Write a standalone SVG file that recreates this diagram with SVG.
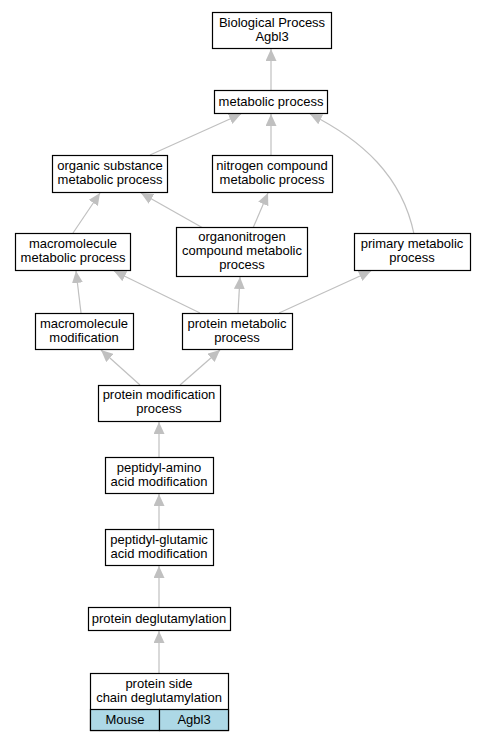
<svg xmlns="http://www.w3.org/2000/svg" width="483" height="741" viewBox="0 0 483 741">
<style>
.n rect{fill:#fff;stroke:#000;stroke-width:1.2}
.n text{font-family:"Liberation Sans",Arial,sans-serif;font-size:13px;text-anchor:middle;fill:#000}
.e path{fill:none;stroke:#c0c0c0;stroke-width:1.2}
.n rect.cell{fill:#add8e6}
</style>
<defs>
<marker id="a" viewBox="0 0 12 11" refX="12" refY="5.5" markerWidth="12" markerHeight="11" markerUnits="userSpaceOnUse" orient="auto">
<path d="M0,0 L12,5.5 L0,11 z" fill="#c0c0c0"/>
</marker>
</defs>
<rect width="483" height="741" fill="#fff"/>
<g class="e">
<path d="M271,90 L271,49" marker-end="url(#a)"/>
<path d="M150,155 L241,114" marker-end="url(#a)"/>
<path d="M271,155 L271,114" marker-end="url(#a)"/>
<path d="M414,234 C402,176 362,140 310,114" marker-end="url(#a)"/>
<path d="M73,233 L100,193" marker-end="url(#a)"/>
<path d="M203,228 L141,193" marker-end="url(#a)"/>
<path d="M253,228 L268,193" marker-end="url(#a)"/>
<path d="M81,313 L76,271" marker-end="url(#a)"/>
<path d="M200,313 L114,271" marker-end="url(#a)"/>
<path d="M238,313 L240,277" marker-end="url(#a)"/>
<path d="M279,313 L371,271" marker-end="url(#a)"/>
<path d="M140,385 L101,350" marker-end="url(#a)"/>
<path d="M180,385 L220,350" marker-end="url(#a)"/>
<path d="M159,457 L159,422" marker-end="url(#a)"/>
<path d="M159,529 L159,494" marker-end="url(#a)"/>
<path d="M159,607 L159,566" marker-end="url(#a)"/>
<path d="M159,673 L159,631" marker-end="url(#a)"/>
</g>
<g id="n1" class="n"><rect x="212.5" y="12.5" width="119" height="36"/><text x="272" y="27">Biological Process</text><text x="272" y="41">Agbl3</text></g>
<g id="n2" class="n"><rect x="214.5" y="90.5" width="113" height="23"/><text x="271" y="106">metabolic process</text></g>
<g id="n3" class="n"><rect x="52.5" y="155.5" width="115" height="37"/><text x="110" y="170">organic substance</text><text x="110" y="184">metabolic process</text></g>
<g id="n4" class="n"><rect x="212.5" y="155.5" width="120" height="37"/><text x="272" y="170">nitrogen compound</text><text x="272" y="184">metabolic process</text></g>
<g id="n5" class="n"><rect x="15.5" y="233.5" width="115" height="37"/><text x="73" y="248">macromolecule</text><text x="73" y="262">metabolic process</text></g>
<g id="n6" class="n"><rect x="176.5" y="227.5" width="131" height="49"/><text x="242" y="241">organonitrogen</text><text x="242" y="255">compound metabolic</text><text x="242" y="269">process</text></g>
<g id="n7" class="n"><rect x="354.5" y="233.5" width="116" height="37"/><text x="412" y="248">primary metabolic</text><text x="412" y="262">process</text></g>
<g id="n8" class="n"><rect x="35.5" y="313.5" width="98" height="36"/><text x="84" y="328">macromolecule</text><text x="84" y="342">modification</text></g>
<g id="n9" class="n"><rect x="182.5" y="313.5" width="110" height="36"/><text x="237" y="328">protein metabolic</text><text x="237" y="342">process</text></g>
<g id="n10" class="n"><rect x="98.5" y="385.5" width="122" height="36"/><text x="159" y="399">protein modification</text><text x="159" y="413">process</text></g>
<g id="n11" class="n"><rect x="105.5" y="457.5" width="108" height="36"/><text x="159" y="472">peptidyl-amino</text><text x="159" y="486">acid modification</text></g>
<g id="n12" class="n"><rect x="105.5" y="529.5" width="108" height="36"/><text x="159" y="544">peptidyl-glutamic</text><text x="159" y="558">acid modification</text></g>
<g id="n13" class="n"><rect x="88.5" y="607.5" width="142" height="23"/><text x="159" y="623">protein deglutamylation</text></g>
<g id="n14" class="n"><rect x="90.5" y="673.5" width="138" height="57"/><text x="159" y="688">protein side</text><text x="159" y="702">chain deglutamylation</text>
<rect class="cell" x="90.5" y="709.5" width="69" height="21"/><rect class="cell" x="159.5" y="709.5" width="69" height="21"/>
<text x="125" y="724">Mouse</text><text x="194" y="724">Agbl3</text></g>
</svg>
